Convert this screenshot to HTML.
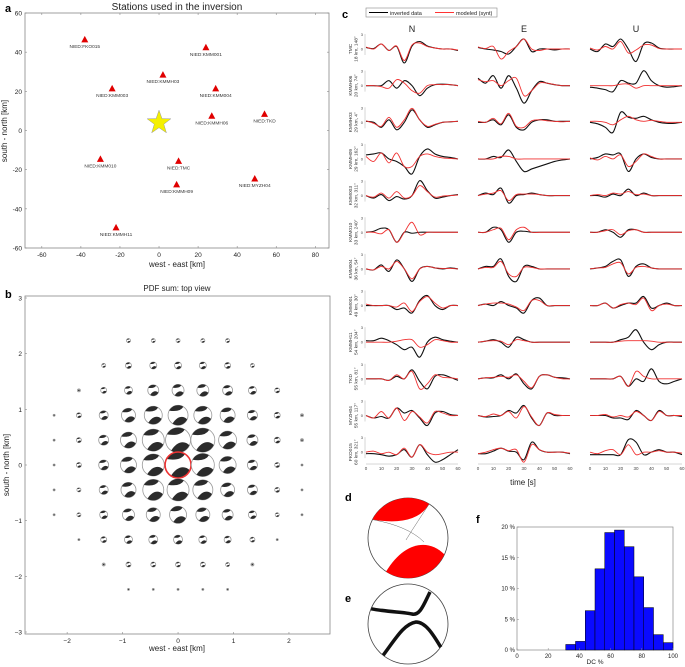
<!DOCTYPE html>
<html><head><meta charset="utf-8"><style>
html,body{margin:0;padding:0;background:#fff}
svg{display:block;font-family:"Liberation Sans",sans-serif}
</style></head><body>
<svg id="fig" width="685" height="667" viewBox="0 0 685 667" xmlns="http://www.w3.org/2000/svg">
<defs>
<path id="bbTop" d="M -0.89,-0.46 A 1 1 0 0 1 0.53,-0.85 Q 0.2,-0.28 -0.89,-0.46 Z"/>
<path id="bbBot" d="M -0.55,0.84 C -0.1,0.1 0.5,0 0.91,0.41 A 1 1 0 0 1 -0.55,0.84 Z"/>
</defs>
<g id="pa"></g>
<g id="pb"></g>
<g id="pc"></g>
<g id="pd"></g>
<g id="pe"></g>
<g id="pf"></g>
</svg>
<script>
// ---------- data ----------
const stationNames=["FKO015","KMM001","KMMH03","KMM003","KMM004","KMMH06","TKD","KMM010","TMC","KMMH09","MYZH04","KMMH11"];
const stationEast=[-38,24,2,-24,29,27,54,-30,10,9,49,-22];
const stationNorth=[46,42,28,21,21,7,8,-15,-16,-28,-25,-50];
const epicenter=[0,4];
const aXTicks=[-60,-40,-20,0,20,40,60,80];
const aYTicks=[60,40,20,0,-20,-40,-60];

const gridCoords=[-2.235,-1.788,-1.341,-0.894,-0.447,0,0.447,0.894,1.341,1.788,2.235];
const pdfSize=[ // rows north(top)->south, cols west->east
[0,0,0,2,2,2,2,2,0,0,0],
[0,0,2,3,3.5,3.5,3.5,3,2,0,0],
[0,1.5,3,4,5.5,6,6,5,4,2.5,0],
[1,2.5,4.5,7,9,10,9,7.5,5,3,1.5],
[1,2.5,5,8,11,12.5,12,9,5.5,3,1.5],
[1,2.5,5,8,11,13,11.5,8.5,5,2.5,1],
[1,2,4.5,7.5,10.5,11,10,7,5,2.5,1],
[1,2,4,6,7,8.5,7,5.5,4,2,1],
[0,1,3,4,4.5,4.5,4,3.5,2.5,1,0],
[0,0,1.5,2.5,2.5,2.5,2.5,2,1.5,0,0],
[0,0,0,1,1,1,1,1,0,0,0]];
const bXTicks=[-2,-1,0,1,2];
const bYTicks=[3,2,1,0,-1,-2,-3];

const wfStations=["TMC","KMMH06","KMMH03","KMMH09","KMM003","KMM010","KMM004","KMM001","KMMH11","TKD","MYZH04","FKO015"];
const wfInfo=["18 km, 148°","20 km, 74°","29 km, 4°","29 km, 162°","32 km, 311°","33 km, 240°","36 km, 54°","49 km, 30°","54 km, 204°","55 km, 81°","55 km, 117°","60 km, 321°"];
const wfTimes=[0,5,10,15,20,25,30,35,40,45,50,55,60];
const timeTicks=[0,10,20,30,40,50,60];
const obsN=[[0.3,0.1,1,-0.3,0.5,-2.8,0.6,1.5,0.6,0.2,0,0,-0.3],[0,0,0,1,-0.5,1,0,-2,-0.5,0.2,0.3,0.2,0],[0.2,0,-1,0.5,-1.5,0,2.5,0.5,-1,-0.5,0,0.1,0.2],[0.8,1,1.2,0,-0.5,-1.5,-3,0.5,2,1,0.5,0.3,0],[0,-0.5,0.2,-1,-0.2,-0.7,0,3,1,-0.5,-0.3,0,0.2],[0,0.2,0.8,0.5,-2,0,-0.2,0,0,0,0,0,0],[0,-0.2,0.8,-0.5,1.8,0,-2.5,0,0.5,0.2,0,0.2,0],[0,0,0,0,-0.8,-0.5,-1.5,1,2,0,-0.8,0,0],[0.3,0.3,0.8,0.3,-0.5,-1.5,-1,-3,0,1,0.5,0.2,0],[0,0,0,-0.3,0.5,0,1.8,-0.5,-2,0.5,0.8,0.3,-0.3],[0,-0.5,-0.2,-0.5,1.5,0.5,1,-0.5,-2,0.5,0.8,0.2,0],[-0.3,-0.3,-0.5,-0.8,-0.5,0.5,-1,1.5,-0.5,-2,-1.5,-0.5,0.5]];
const synN=[[0.4,0,1,-0.3,0.6,-2.3,0.8,1.2,0.5,0.2,0,0,-0.2],[0,0,-0.2,-0.5,1.2,0.5,-1,-1.5,0,0.2,0.2,0.2,0],[0.3,-0.2,-0.8,1,-1,0.5,2.8,0.5,-0.8,-0.4,0,0.1,0.2],[0.5,-0.5,1.2,-0.8,1.2,-1.5,-1.5,0.5,1,0.5,0.2,0.1,0],[0,-0.3,0.5,-0.5,0.8,-0.5,0,2,0.8,-0.3,-0.1,0,0.1],[0,0,-0.3,0.5,-2,0,2,-0.5,0,0,0,0,0],[0,-0.2,0.5,0,1.5,0,-2,0,0.5,0.2,0.1,0.1,0],[0.3,0,0,0,-0.3,0.5,-1.2,0.8,1.8,0.5,-0.5,0,0],[0,0,0,0,0.2,0.5,0.5,-1,-0.5,0.5,0.3,0,0],[0,0,0,-0.3,0.8,0,1.5,-2,-1,0.8,0.3,0.2,0],[0,-0.5,0.8,-0.5,1.5,-1,0.8,-0.3,-1.5,0.8,0.5,0,0],[0,0.2,-0.3,0,-0.5,0.8,-1,1.5,0,-0.5,-0.3,0,0]];
const obsE=[[0.3,0,-0.2,-0.5,-1,0.5,2,-0.5,0,0,-0.2,0,0],[1.5,0.5,2,-0.5,2,-0.5,-3.5,-1,0.8,0.5,0.2,0,0],[0,0,0.5,-0.5,1.5,-1,-1.5,0,0.5,0.5,0.2,0.2,0.2],[0,0,0.5,0.3,1.8,-0.5,-2.5,-2,-1.5,-1,-0.5,-0.2,0],[0,0.5,0.2,1.5,-1.5,0,0.2,0.5,0.2,0,0,0,0],[0,0,1,0.5,-2,0,0.2,0,0,0,0,0,0],[0,0.5,0.5,2,-1.5,-2.5,0.5,0.5,0,0,0,0,0],[0,0.3,0,0.8,0,-0.5,-1.5,1,1.5,0,0,0,0],[0,0.2,0.5,0,-1,1,0.5,0,0,0,0,0,0],[0,0.2,0.2,0.8,0,1,-1,-2,0.5,0.8,0.3,0.2,0],[0,-0.3,-0.2,0,1,0.5,2,-0.5,-2,0.5,0,0,0],[-0.3,-0.3,0.2,0.8,0.2,0,-1.5,2,0.5,0,0,0,-0.3]];
const synE=[[0.4,0.1,0.5,-2,-0.5,0.5,2,0,-0.3,0,0,0,0],[1.2,0.8,1,0,1,1.5,-2,-1,0.5,0.5,0.2,0,0],[0.2,0,0.8,-0.3,1.8,-0.8,-1,0.3,0.5,0.3,0.2,0.1,0.2],[0,0,0,0.5,0.5,0,0,0,0,0,0,0,0],[0,0.3,0.5,1,-1,0.2,0.3,0.3,0.2,0,0,0,0],[0,0,0.5,0.8,-1.5,0.5,1,0,0,0,0,0,0],[0,0.3,0.3,1.5,-1,-1.5,0.3,0.3,0,0,0,0,0],[0,0.3,0.5,0.5,0.3,-0.3,-1,1,1,0,0,0,0],[0,0.2,0.3,0.2,-0.5,0.5,0.3,0,0,0,0,0,0],[0,0.2,0.3,0.5,0.3,0.8,-0.5,-1.8,0.5,0.8,0.3,0,0],[0,-0.2,0.3,0,0.8,-0.5,1.8,-0.3,-2,0.5,0.2,0,0],[-0.3,0,0.5,0.8,0.3,0.5,-2,1.5,0.5,0,0,0,-0.2]];
const obsU=[[0,-0.5,1,0.5,2,0,-2.5,1,1.2,0.2,0,0,0],[-0.3,-0.5,-0.8,-1.2,1,0.5,0.5,3,1,0,-0.3,-0.2,0],[0,-0.3,-1,-2,2,1,0.8,1.2,0.5,0,-0.2,-0.2,0],[0,0.3,1,0.8,1,-2.5,0,1,0.3,0,0,0,0],[0,0,-0.3,0.3,0,1.3,0,0.5,0,0,0,0,0],[0,0,0.5,0,-1,0.5,0.5,0,0,0,0,0,0],[0,0.2,0.5,1.5,1.8,-1.5,0.5,1,0.2,0,0,0,0],[0,0,0.5,-0.5,0,0.5,0.5,1.8,-0.5,0,0.5,0,0],[0,0,0,0,0.5,1,2.5,0,-1.5,-0.5,0,0,0],[0,0,0,0,0.5,-1.5,0,-0.5,2,-0.5,-1,-0.5,0],[0,0,0,-0.5,-0.5,-0.8,1,0,-1,1,0,0,-0.2],[-0.5,-0.5,-0.5,-0.5,-0.5,2.5,2,-0.5,0,0.5,0,0,-0.5]];
const synU=[[0.2,-0.2,0.5,0,1.5,-0.8,-0.2,0.8,0.8,0.1,0,0,0],[0,0,0,0,0.3,0.3,-0.5,0,0,0,0,0,0],[0.2,0.2,0,-0.5,0.5,1.2,0.5,0.2,0.4,0.2,0,0,0],[0.2,-0.2,0.5,0,0.8,-1.5,-0.5,1,0.5,0,0,0,0],[0,0.2,0,0.5,0.3,0.8,0.2,0.3,0,0,0,0,0],[0,0,0.3,0.5,-0.5,0.3,0.5,0,0,0,0,0,0],[0,0.2,0.3,1,1.2,-1,0.3,0.5,0.2,0,0,0,0],[0,0,0.5,-0.5,0.2,0.5,0.2,1.5,-1,0,0.3,0,0],[0,0,0,0,0.2,0.3,0.3,0.3,0.2,0,0,0,0],[0,0,0,0,0.5,-1.5,1.5,0.5,0,0,0,0,0],[0,0,0.2,-0.3,0,-0.3,0.8,0,-1,0.8,0,0,0],[0,-0.3,0.3,0.5,-0.5,1.5,-0.5,0,0,0.3,0,0,-0.2]];

const dcBinStart=[31.25,37.5,43.75,50,56.25,62.5,68.75,75,81.25,87.5,93.75];
const dcPercent=[0.9,1.4,6.4,13.2,19.1,19.5,16.8,11.9,6.9,2.5,1.2];
const fXTicks=[0,20,40,60,80,100];
const fYTicks=[0,5,10,15,20];

// ---------- helpers ----------
const NS="http://www.w3.org/2000/svg";
function mk(parent,tag,attrs,text){const e=document.createElementNS(NS,tag);for(const k in attrs)e.setAttribute(k,attrs[k]);if(text!==undefined)e.textContent=text;parent.appendChild(e);return e;}
function lin(d0,d1,p0,p1){return v=>p0+(v-d0)*(p1-p0)/(d1-d0);}
function spline(pts){let d="M"+pts[0][0].toFixed(2)+","+pts[0][1].toFixed(2);for(let i=0;i<pts.length-1;i++){const p0=pts[Math.max(0,i-1)],p1=pts[i],p2=pts[i+1],p3=pts[Math.min(pts.length-1,i+2)];const c1=[p1[0]+(p2[0]-p0[0])/6,p1[1]+(p2[1]-p0[1])/6],c2=[p2[0]-(p3[0]-p1[0])/6,p2[1]-(p3[1]-p1[1])/6];d+="C"+c1.map(v=>v.toFixed(2))+" "+c2.map(v=>v.toFixed(2))+" "+p2.map(v=>v.toFixed(2));}return d;}
const txtC="#222";

// ---------- panel a ----------
(function(){
const g=document.getElementById('pa');
const L=25,R=329,T=13,B=248;
const x=lin(-68.6,87,L,R),y=lin(60,-60,T,B);
let e=mk(g,'text',{x:5,y:12,'font-size':11,'font-weight':'bold',fill:'#000'},'a');

e=mk(g,'text',{x:177,y:10,'font-size':10,'text-anchor':'middle',fill:txtC},'Stations used in the inversion');

e=mk(g,'rect',{x:L,y:T,width:R-L,height:B-T,fill:'none',stroke:'#888','stroke-width':0.8});

aXTicks.forEach(v=>{const t=mk(g,'text',{x:x(v),y:B+9,'font-size':6.5,'text-anchor':'middle',fill:txtC},v);

mk(g,'line',{x1:x(v),x2:x(v),y1:B,y2:B-2,stroke:'#888','stroke-width':0.6});mk(g,'line',{x1:x(v),x2:x(v),y1:T,y2:T+2,stroke:'#888','stroke-width':0.6});});
aYTicks.forEach(v=>{const t=mk(g,'text',{x:L-3,y:y(v)+2.5,'font-size':6.5,'text-anchor':'end',fill:txtC},v);

mk(g,'line',{x1:L,x2:L+2,y1:y(v),y2:y(v),stroke:'#888','stroke-width':0.6});mk(g,'line',{x1:R,x2:R-2,y1:y(v),y2:y(v),stroke:'#888','stroke-width':0.6});});
e=mk(g,'text',{x:177,y:267,'font-size':8,'text-anchor':'middle',fill:txtC},'west - east [km]');

e=mk(g,'text',{x:0,y:0,'font-size':8,'text-anchor':'middle',fill:txtC,transform:'translate(7,131) rotate(-90)'},'south - north [km]');

const sx=x(epicenter[0]),sy=y(epicenter[1]);let p=[];
for(let i=0;i<10;i++){const r=i%2?5:12.5,a=-Math.PI/2+i*Math.PI/5;p.push((sx+r*Math.cos(a)).toFixed(1)+","+(sy+r*Math.sin(a)).toFixed(1));}
e=mk(g,'polygon',{points:p.join(' '),fill:'#f5f000',stroke:'#999','stroke-width':0.5});

stationNames.forEach((n,i)=>{const cx=x(stationEast[i]),cy=y(stationNorth[i]);
const t=mk(g,'polygon',{points:`${cx},${cy-4.5} ${cx-3.5},${cy+2} ${cx+3.5},${cy+2}`,fill:'#e00000'});

const l=mk(g,'text',{x:cx,y:cy+7.5,'font-size':4.8,'text-anchor':'middle',fill:'#333'},'NIED:'+n);
});
})();

// ---------- panel b ----------
(function(){
const g=document.getElementById('pb');
const L=25,R=330,T=296,B=634;
const x=lin(-2.76,2.74,L,R),y=lin(3,-3,298,632);
let e=mk(g,'text',{x:5,y:298,'font-size':11,'font-weight':'bold',fill:'#000'},'b');

e=mk(g,'text',{x:177,y:291,'font-size':8,'text-anchor':'middle',fill:txtC},'PDF sum: top view');

e=mk(g,'rect',{x:L,y:T,width:R-L,height:B-T,fill:'none',stroke:'#888','stroke-width':0.8});

bXTicks.forEach(v=>{const t=mk(g,'text',{x:x(v),y:B+9,'font-size':6.5,'text-anchor':'middle',fill:txtC},v<0?'−'+(-v):v);

mk(g,'line',{x1:x(v),x2:x(v),y1:B,y2:B-2,stroke:'#888','stroke-width':0.6});});
bYTicks.forEach(v=>{const t=mk(g,'text',{x:L-3,y:y(v)+2.5,'font-size':6.5,'text-anchor':'end',fill:txtC},v<0?'−'+(-v):v);

mk(g,'line',{x1:L,x2:L+2,y1:y(v),y2:y(v),stroke:'#888','stroke-width':0.6});});
e=mk(g,'text',{x:177,y:651,'font-size':8,'text-anchor':'middle',fill:txtC},'west - east [km]');

e=mk(g,'text',{x:0,y:0,'font-size':8,'text-anchor':'middle',fill:txtC,transform:'translate(9,465) rotate(-90)'},'south - north [km]');

pdfSize.forEach((row,ri)=>row.forEach((s,ci)=>{if(!s)return;
const cx=x(gridCoords[ci]),cy=y(-gridCoords[ri]);
const bb=mk(g,'g',{transform:`translate(${cx.toFixed(2)},${cy.toFixed(2)}) scale(${s})`});

mk(bb,'circle',{cx:0,cy:0,r:1,fill:'#fff',stroke:'#999','stroke-width':0.8,'vector-effect':'non-scaling-stroke'});
if(s>1.6){mk(bb,'use',{href:'#bbTop',fill:'#2b2b2b'});mk(bb,'use',{href:'#bbBot',fill:'#2b2b2b'});}
else mk(bb,'circle',{cx:0,cy:0,r:0.6,fill:'#333'});
if(ri===5&&ci===5){const c=mk(g,'circle',{cx:cx,cy:cy,r:s,fill:'none',stroke:'#e33','stroke-width':1.6});
}
}));
})();

// ---------- panel c ----------
(function(){
const g=document.getElementById('pc');
let e=mk(g,'text',{x:342,y:18,'font-size':11,'font-weight':'bold',fill:'#000'},'c');

const lg=mk(g,'g',{});
mk(lg,'rect',{x:366,y:8,width:131,height:9,fill:'#fff',stroke:'#888','stroke-width':0.6});
mk(lg,'line',{x1:369,x2:388,y1:12.5,y2:12.5,stroke:'#000','stroke-width':1});
e=mk(lg,'text',{x:390,y:15,'font-size':5.5,fill:'#222'},'inverted data');
mk(lg,'line',{x1:435,x2:454,y1:12.5,y2:12.5,stroke:'#f33','stroke-width':1});
e=mk(lg,'text',{x:456,y:15,'font-size':5.5,fill:'#222'},'modeled (synt)');
const colX=[366,478,590],colW=92,comps=["N","E","U"];
const obs=[obsN,obsE,obsU],syn=[synN,synE,synU];
comps.forEach((c,ci)=>{const t=mk(g,'text',{x:colX[ci]+colW/2,y:32,'font-size':9,'text-anchor':'middle',fill:txtC},c);
});
const yU=5;
wfStations.forEach((s,si)=>{const y0=49+36.65*si;
const lb=mk(g,'text',{x:0,y:0,'font-size':4.8,'text-anchor':'middle',fill:'#333',transform:`translate(352,${y0}) rotate(-90)`});

mk(lb,'tspan',{x:0,dy:0},s);mk(lb,'tspan',{x:0,dy:5.5},wfInfo[si]);
comps.forEach((c,ci)=>{const x=lin(0,60,colX[ci],colX[ci]+colW);
if(ci===0){mk(g,'line',{x1:colX[0]-1,x2:colX[0]-1,y1:y0-15,y2:y0+6,stroke:'#999','stroke-width':0.4});
mk(g,'text',{x:colX[0]-3,y:y0-13,'font-size':4,'text-anchor':'end',fill:'#444'},'3');
mk(g,'text',{x:colX[0]-3,y:y0+1.5,'font-size':4,'text-anchor':'end',fill:'#444'},'0');}
const po=wfTimes.map((t,k)=>[x(t),y0-obs[ci][si][k]*yU]);
const ps=wfTimes.map((t,k)=>[x(t),y0-syn[ci][si][k]*yU]);
const a=mk(g,'path',{d:spline(po),fill:'none',stroke:'#111','stroke-width':1.1});

const b=mk(g,'path',{d:spline(ps),fill:'none',stroke:'#f03030','stroke-width':0.9});

if(si===wfStations.length-1){mk(g,'line',{x1:colX[ci],x2:colX[ci]+colW,y1:464,y2:464,stroke:'#999','stroke-width':0.4});
timeTicks.forEach(v=>{const t=mk(g,'text',{x:x(v),y:470,'font-size':4.5,'text-anchor':'middle',fill:'#444'},v);
});}
});});
e=mk(g,'text',{x:523,y:485,'font-size':8,'text-anchor':'middle',fill:txtC},'time [s]');

})();

// ---------- panel d / e ----------
(function(){
const d=document.getElementById('pd');
let e=mk(d,'text',{x:345,y:501,'font-size':11,'font-weight':'bold',fill:'#000'},'d');

const bb=mk(d,'g',{transform:'translate(408,538) scale(40)'});
mk(bb,'circle',{cx:0,cy:0,r:1,fill:'#fff',stroke:'#444','stroke-width':0.8,'vector-effect':'non-scaling-stroke'});
mk(bb,'use',{href:'#bbTop',fill:'#f00'});mk(bb,'use',{href:'#bbBot',fill:'#f00'});
mk(bb,'path',{d:'M 0.53,-0.85 Q 0.1,-0.2 -0.05,0.05 M -0.89,-0.46 Q 0,-0.3 0.4,0.1',fill:'none',stroke:'#666','stroke-width':0.5,'vector-effect':'non-scaling-stroke'});
const g=document.getElementById('pe');
e=mk(g,'text',{x:345,y:602,'font-size':11,'font-weight':'bold',fill:'#000'},'e');

const b2=mk(g,'g',{transform:'translate(408,624) scale(40)'});
mk(b2,'circle',{cx:0,cy:0,r:1,fill:'#fff',stroke:'#444','stroke-width':0.8,'vector-effect':'non-scaling-stroke'});
mk(b2,'path',{d:'M -0.92,-0.38 C -0.5,-0.3 -0.1,-0.3 0.1,-0.25 C 0.3,-0.2 0.4,-0.5 0.55,-0.8',fill:'none',stroke:'#111','stroke-width':3.5,'vector-effect':'non-scaling-stroke'});
mk(b2,'path',{d:'M -0.62,0.78 C -0.3,0.35 -0.1,0 0.2,-0.05 C 0.45,-0.05 0.65,0.3 0.82,0.58',fill:'none',stroke:'#111','stroke-width':3.5,'vector-effect':'non-scaling-stroke'});
})();

// ---------- panel f ----------
(function(){
const g=document.getElementById('pf');
const L=517,R=673,T=527,B=650;
const x=lin(0,100,L,R),y=lin(0,20,B,T);
let e=mk(g,'text',{x:476,y:523,'font-size':11,'font-weight':'bold',fill:'#000'},'f');

mk(g,'rect',{x:L,y:T,width:R-L,height:B-T,fill:'#fff',stroke:'#888','stroke-width':0.7});
dcPercent.forEach((v,i)=>{const x0=x(dcBinStart[i]),x1=x(dcBinStart[i]+6.25);
const r=mk(g,'rect',{x:x0,y:y(v),width:x1-x0,height:B-y(v),fill:'#0a0aff',stroke:'#000','stroke-width':0.5});
});
fXTicks.forEach(v=>{const t=mk(g,'text',{x:x(v),y:B+8,'font-size':6,'text-anchor':'middle',fill:txtC},v);

mk(g,'line',{x1:x(v),x2:x(v),y1:B,y2:B-2,stroke:'#888','stroke-width':0.5});});
fYTicks.forEach(v=>{const t=mk(g,'text',{x:L-2,y:y(v)+2,'font-size':6,'text-anchor':'end',fill:txtC},v+' %');

mk(g,'line',{x1:L,x2:L+2,y1:y(v),y2:y(v),stroke:'#888','stroke-width':0.5});});
e=mk(g,'text',{x:595,y:664,'font-size':6.5,'text-anchor':'middle',fill:txtC},'DC %');

})();
</script>
</body></html>
